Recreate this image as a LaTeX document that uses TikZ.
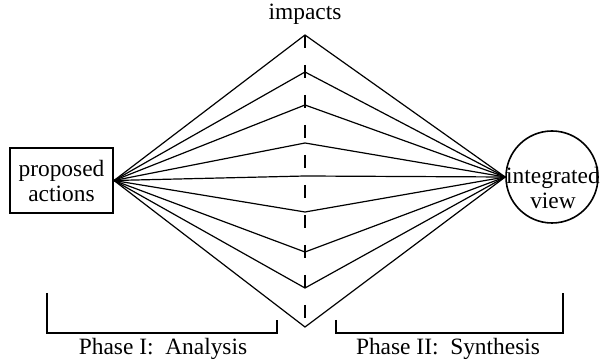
\documentclass[tikz,border=0pt]{standalone}
\usepackage{fontspec}
\setmainfont{Liberation Serif}
\newfontfamily\phasefont{Liberation Serif}
\usepackage{tikz}
\usetikzlibrary{positioning}

\begin{document}
\begin{tikzpicture}[x=0.5pt, y=-0.5pt,
  lbl/.style={font=\phasefont\fontsize{11.7}{12.5}\selectfont, inner sep=0pt, align=center},
  fan/.style={line width=0.6pt},
  midline/.style={line width=1.4pt, dash pattern=on 6.5pt off 8.5pt},
  bracket/.style={line width=0.7pt}]
\useasboundingbox (0,0) rectangle (601,363);
% ends of the fan
\node[lbl, draw, line width=1pt, minimum width=51.5pt, minimum height=32.5pt] (act) at (61.5,180.5) {proposed\\actions};
\node[draw, circle, line width=0.8pt, minimum size=46pt, inner sep=0pt] (view) at (552,177) {};
\node[lbl] (viewtxt) at (553,188) {integrated\\view};
% impacts on the middle line
\foreach \y [count=\i] in {35,72,105,143,176,212,252,288,327}
  \coordinate (v\i) at (305,\y);
\node[lbl, above=5pt of v1] (imp) {impacts};
\draw[midline] (v1) -- (v9);
\foreach \i in {1,...,9}
  \draw[fan] (act.east) -- (v\i) -- (view.west);
% phases
\coordinate (p1a) at (47,293);
\coordinate (p1b) at (47,333);
\coordinate (p1c) at (277,333);
\coordinate (p1d) at (277,320);
\draw[bracket] (p1a) -- (p1b) -- (p1c) -- (p1d);
\node[lbl] (ph1) at (163,349) {Phase I:\ \ Analysis};
\coordinate (p2a) at (336,320);
\coordinate (p2b) at (336,333);
\coordinate (p2c) at (563,333);
\coordinate (p2d) at (563,293);
\draw[bracket] (p2a) -- (p2b) -- (p2c) -- (p2d);
\node[lbl] (ph2) at (448,349) {Phase II:\ \ Synthesis};
\end{tikzpicture}
\end{document}
